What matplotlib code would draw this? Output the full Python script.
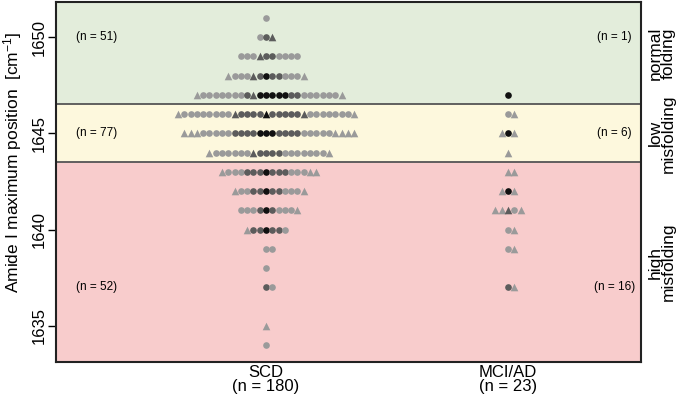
import numpy as np
import matplotlib.pyplot as plt

plt.rcParams['font.family'] = ['Liberation Sans', 'DejaVu Sans']
plt.rcParams['mathtext.fontset'] = 'custom'
plt.rcParams['mathtext.rm'] = 'Liberation Sans'
plt.rcParams['mathtext.default'] = 'regular'

# marker codes: c light circle, d dark circle, k black circle,
#               t light triangle, u dark triangle, v black triangle
groups = ['SCD', 'MCI/AD']

scd_levels = [1651, 1650, 1649, 1648, 1647, 1646, 1645, 1644, 1643,
              1642, 1641, 1640, 1639, 1638, 1637, 1635, 1634]
scd_rows = ['c', 'cdu', 'cccuddcccc', 'tcccudkddccct',
            'tcccccccdukkkkkddcccccct',
            'tccccccccuddddvddddduccccccct',
            'tttcccccddddkkkddddccccctttt',
            'tccccccuddddccccccct',
            'tcccdddkdddccctt', 'tccddkddccct', 'cccdkdccct', 'tddkddc',
            'cc', 'c', 'dc', 't', 'c']

mci_levels = [1647, 1646, 1645, 1644, 1643, 1642, 1641, 1640, 1639, 1637]
mci_rows = ['k', 'ct', 'tkt', 't', 'tt', 'tkt', 'ttuct', 'ct', 'ct', 'dt']

band_edges = [1633.0, 1643.5, 1646.5, 1652.0]
band_colors = ['#f8cccc', '#fdf8dd', '#e3eddb']
band_names = ['high\nmisfolding', 'low\nmisfolding', 'normal\nfolding']
band_label_y = [1637, 1645, 1650]

styles = {
    'c': ('o', '#9a9a9a'), 'd': ('o', '#5c5c5c'), 'k': ('o', '#111111'),
    't': ('^', '#9a9a9a'), 'u': ('^', '#5c5c5c'), 'v': ('^', '#111111'),
}

fig = plt.figure(figsize=(6.85, 4.0), dpi=100)
ax = fig.add_axes([0.0818, 0.095, 0.8540, 0.900])

for lo, hi, col in zip(band_edges[:-1], band_edges[1:], band_colors):
    ax.axhspan(lo, hi, color=col, zorder=0, lw=0)
for e in band_edges[1:-1]:
    ax.axhline(e, color='#555555', lw=1.3, zorder=1)

step = 0.026
for gi, (levels, rows) in enumerate([(scd_levels, scd_rows), (mci_levels, mci_rows)]):
    xc = gi + 1
    for y, row in zip(levels, rows):
        n = len(row)
        offs = np.arange(n) - (n - 1) // 2
        for o, code in zip(offs, row):
            m, col = styles[code]
            s = 23 if m == 'o' else 30
            ax.scatter(xc + o * step, y, marker=m, s=s, color=col,
                       linewidths=0, zorder=3)

# counts per band
for gi, (levels, rows) in enumerate([(scd_levels, scd_rows), (mci_levels, mci_rows)]):
    xt = 0.30 if gi == 0 else 2.44
    for lo, hi, yl in zip(band_edges[:-1], band_edges[1:], band_label_y):
        cnt = sum(len(r) for y, r in zip(levels, rows) if lo < y < hi)
        ax.text(xt, yl, f'(n = {cnt})', ha='center', va='center', fontsize=8.5)

for lo, hi, name in zip(band_edges[:-1], band_edges[1:], band_names):
    ax.text(1.036, (max(lo, 1633.13) + min(hi, 1651.82)) / 2, name,
            transform=ax.get_yaxis_transform(), rotation=90,
            ha='center', va='center', fontsize=12.5, linespacing=0.85)

totals = [sum(len(r) for r in scd_rows), sum(len(r) for r in mci_rows)]
ax.set_xticks([1, 2])
ax.set_xticklabels([f'{g}\n(n = {t})' for g, t in zip(groups, totals)],
                   fontsize=12, linespacing=0.9)
ax.tick_params(axis='x', length=0, pad=2)
ax.set_xlim(0.132, 2.55)
ax.set_ylim(1633.13, 1651.82)
ax.set_yticks([1635, 1640, 1645, 1650])
ax.tick_params(axis='y', length=6, width=1, labelsize=12, pad=1)
for lab in ax.get_yticklabels():
    lab.set_rotation(90)
    lab.set_va('center')
ax.set_ylabel('Amide I maximum position  [cm$^{-1}$]', fontsize=12.5)
ax.yaxis.set_label_coords(-0.054, 0.555)
for sp in ax.spines.values():
    sp.set_linewidth(1.5)
    sp.set_color('#222222')

fig.savefig('out.png', dpi=100)
